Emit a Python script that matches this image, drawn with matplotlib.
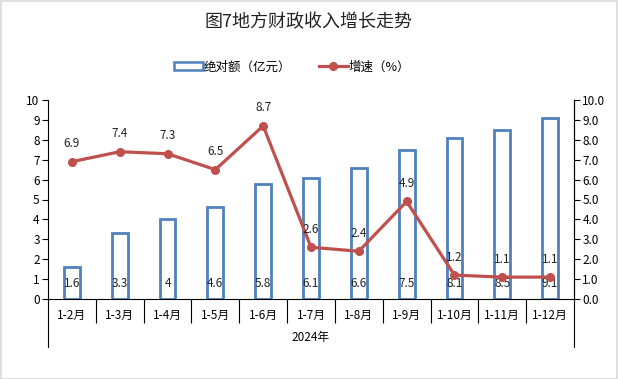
import matplotlib
matplotlib.use("Agg")
import matplotlib.pyplot as plt
from matplotlib.patches import Rectangle
from matplotlib.lines import Line2D
import matplotlib.transforms as mtransforms

plt.rcParams['font.family'] = ['Noto Sans CJK SC', 'DejaVu Sans']

categories = ["1-2月", "1-3月", "1-4月", "1-5月", "1-6月", "1-7月", "1-8月",
              "1-9月", "1-10月", "1-11月", "1-12月"]
amount = [1.6, 3.3, 4, 4.6, 5.8, 6.1, 6.6, 7.5, 8.1, 8.5, 9.1]
growth = [6.9, 7.4, 7.3, 6.5, 8.7, 2.6, 2.4, 4.9, 1.2, 1.1, 1.1]
left_ticks = list(range(0, 11))
right_ticks = [float(v) for v in range(0, 11)]
year_label = "2024年"
title = "图7地方财政收入增长走势"
legend_labels = ["绝对额（亿元）", "增速（%）"]

BLUE = "#4F81BD"
RED = "#C0504D"
FS = 8.5

fig = plt.figure(figsize=(6.18, 3.79), dpi=100)
fig.patches.append(Rectangle((0.001, 0.001), 0.997, 0.996, transform=fig.transFigure,
                             fill=False, edgecolor="#d9d9d9", linewidth=1.2))

ax = fig.add_axes([48 / 618, 80 / 379, 526 / 618, 199 / 379])
n = len(categories)
x = list(range(n))

ax.bar(x, amount, width=0.33, facecolor="white", edgecolor=BLUE, linewidth=2.0, zorder=2)
for xi, v in zip(x, amount):
    ax.annotate(f"{v:g}", (xi, 0), xytext=(0, 11), textcoords="offset points",
                ha="center", va="center", fontsize=FS, color="#222222", zorder=3)

ax.set_xlim(-0.5, n - 0.5)
ax.set_ylim(0, 10)
ax.set_yticks(left_ticks)
ax.set_yticklabels([str(t) for t in left_ticks], fontsize=FS)
ax.tick_params(axis="y", direction="out", length=4, width=0.8, pad=2)

ax.set_xticks(x)
ax.set_xticklabels(categories, fontsize=FS)
ax.tick_params(axis="x", which="major", length=0, pad=7)
ax.set_xticks([i + 0.5 for i in range(n - 1)], minor=True)
ax.tick_params(axis="x", which="minor", direction="out", length=17, width=0.8)

ax.spines["top"].set_visible(False)
for s in ["left", "bottom", "right"]:
    ax.spines[s].set_color("black")
    ax.spines[s].set_linewidth(0.8)

trans = mtransforms.blended_transform_factory(ax.transData, ax.transAxes)
for xb in (-0.5, n - 0.5):
    ax.add_line(Line2D([xb, xb], [0, -48 / 199], transform=trans, color="black",
                       linewidth=0.8, clip_on=False))

ax.annotate(year_label, (0.5, 0), xycoords="axes fraction", xytext=(0, -28),
            textcoords="offset points", ha="center", va="center", fontsize=FS)

ax2 = ax.twinx()
ax2.set_ylim(0, 10)
ax2.set_yticks(right_ticks)
ax2.set_yticklabels([f"{t:.1f}" for t in right_ticks], fontsize=FS)
ax2.tick_params(axis="y", direction="out", length=4, width=0.8, pad=2)
ax2.spines["top"].set_visible(False)
ax2.spines["right"].set_color("black")
ax2.spines["right"].set_linewidth(0.8)
ax2.spines["left"].set_visible(False)
ax2.spines["bottom"].set_visible(False)

ax2.plot(x, growth, color=RED, linewidth=2.3, marker="o", markersize=5.5,
         markerfacecolor=RED, markeredgecolor=RED, zorder=4)
for xi, v in zip(x, growth):
    ax2.annotate(f"{v:g}", (xi, v), xytext=(0, 13), textcoords="offset points",
                 ha="center", va="center", fontsize=FS, color="#222222", zorder=5)

fig.text(0.5, 1 - 22 / 379, title, ha="center", va="center", fontsize=13, color="#222222")

handles = [Rectangle((0, 0), 1, 1, facecolor="white", edgecolor=BLUE, linewidth=1.8),
           Line2D([], [], color=RED, linewidth=2.3, marker="o", markersize=5.5)]
fig.legend(handles, legend_labels, loc="center", bbox_to_anchor=(292 / 618, 1 - 67 / 379),
           ncol=2, frameon=False, fontsize=9, handlelength=2.3, handleheight=0.6,
           handletextpad=0.1, columnspacing=2.2)

fig.savefig("out.png", dpi=100)
